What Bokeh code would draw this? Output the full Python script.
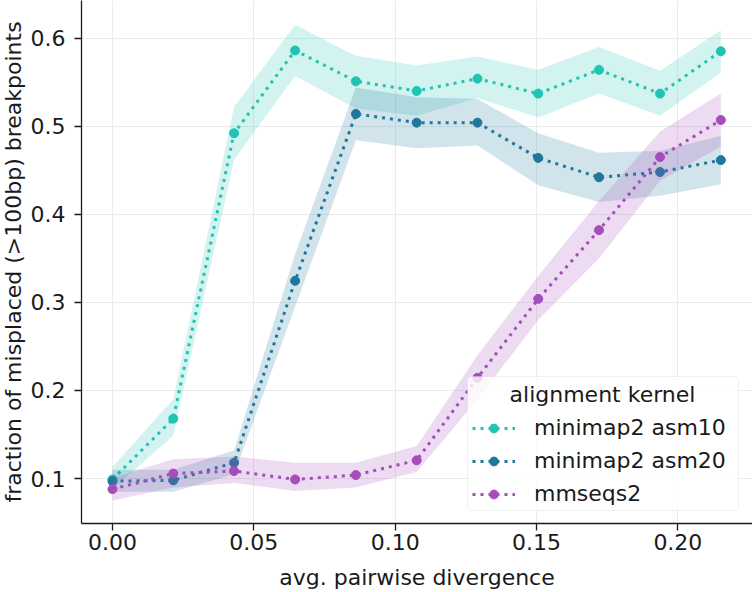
from bokeh.plotting import figure
from bokeh.models import (Range1d, FixedTicker, PrintfTickFormatter, Legend, LegendItem,
                          ColumnDataSource, Label, Title, BoxAnnotation)
from bokeh.embed import file_html
from bokeh.resources import INLINE

# ---- data ----
divergence = [0.0, 0.0215, 0.0430, 0.0646, 0.0861, 0.1076, 0.1291, 0.1506, 0.1721, 0.1937, 0.2152]

asm10_mean = [0.099, 0.168, 0.492, 0.586, 0.551, 0.540, 0.554, 0.537, 0.564, 0.537, 0.585]
asm10_lo = [0.088, 0.149, 0.462, 0.557, 0.520, 0.512, 0.532, 0.510, 0.537, 0.512, 0.561]
asm10_hi = [0.113, 0.190, 0.522, 0.615, 0.580, 0.569, 0.579, 0.564, 0.590, 0.563, 0.609]

asm20_mean = [0.097, 0.098, 0.118, 0.3245, 0.514, 0.504, 0.504, 0.464, 0.442, 0.448, 0.4615]
asm20_lo = [0.085, 0.085, 0.105, 0.295, 0.484, 0.475, 0.478, 0.433, 0.414, 0.421, 0.434]
asm20_hi = [0.110, 0.110, 0.132, 0.355, 0.544, 0.533, 0.531, 0.492, 0.470, 0.472, 0.489]

mmseqs_mean = [0.088, 0.1057, 0.1086, 0.099, 0.104, 0.1207, 0.2144, 0.304, 0.382, 0.465, 0.507]
mmseqs_lo = [0.075, 0.090, 0.095, 0.086, 0.090, 0.1075, 0.190, 0.280, 0.350, 0.438, 0.477]
mmseqs_hi = [0.101, 0.122, 0.125, 0.118, 0.118, 0.137, 0.240, 0.330, 0.415, 0.494, 0.537]

series_names = ["minimap2 asm10", "minimap2 asm20", "mmseqs2"]
series_colors = ["#1fc4b3", "#1f789c", "#a54dbb"]

x_ticks = [0.0, 0.05, 0.10, 0.15, 0.20]
y_ticks = [0.1, 0.2, 0.3, 0.4, 0.5, 0.6]

x_label = "avg. pairwise divergence"
y_label = "fraction of misplaced (>100bp) breakpoints"
legend_title = "alignment kernel"

FONT = "DejaVu Sans"
INK = "#1a1a1a"

p = figure(width=752, height=592, output_backend="svg", toolbar_location=None,
           x_range=Range1d(-0.01097, 0.2264), y_range=Range1d(0.0490, 0.6427),
           min_border=0, min_border_left=81, min_border_right=0,
           min_border_top=0, min_border_bottom=68)

p.outline_line_color = None
p.background_fill_color = "white"

for g in (p.xgrid, p.ygrid):
    g.grid_line_color = "#ebebeb"
    g.grid_line_width = 1

p.xaxis.ticker = FixedTicker(ticks=x_ticks)
p.yaxis.ticker = FixedTicker(ticks=y_ticks)
p.xaxis.formatter = PrintfTickFormatter(format="%.2f")
p.yaxis.formatter = PrintfTickFormatter(format="%.1f")
p.xaxis.axis_label = x_label

for ax in (p.xaxis, p.yaxis):
    ax.axis_line_color = INK
    ax.axis_line_width = 1.3
    ax.major_tick_line_color = INK
    ax.major_tick_line_width = 1.3
    ax.major_tick_out = 7
    ax.major_tick_in = 0
    ax.minor_tick_line_color = None
    ax.major_label_text_font = FONT
    ax.major_label_text_font_size = "22px"
    ax.major_label_text_color = INK
    ax.axis_label_text_font = FONT
    ax.axis_label_text_font_size = "22px"
    ax.axis_label_text_font_style = "normal"
    ax.axis_label_text_color = INK

p.xaxis.major_label_standoff = 3
p.xaxis.axis_label_standoff = 12
p.yaxis.major_label_standoff = 9

# y axis label as a side title in the left border
p.add_layout(Title(text=y_label, align="center", vertical_align="top", standoff=0,
                   text_font=FONT, text_font_size="22px", text_font_style="normal",
                   text_color=INK), "left")

all_series = [
    (asm10_mean, asm10_lo, asm10_hi),
    (asm20_mean, asm20_lo, asm20_hi),
    (mmseqs_mean, mmseqs_lo, mmseqs_hi),
]

items = []
for name, color, (m, lo, hi) in zip(series_names, series_colors, all_series):
    src = ColumnDataSource(dict(x=divergence, y=m, lo=lo, hi=hi))
    p.varea(x="x", y1="lo", y2="hi", source=src, fill_color=color, fill_alpha=0.2)
    ln = p.line(x="x", y="y", source=src, line_color=color, line_width=3,
                line_dash="3 5")
    sc = p.scatter(x="x", y="y", source=src, size=9, fill_color=color,
                   line_color=color, line_width=1)
    items.append(LegendItem(label=name, renderers=[ln, sc]))

# translucent rounded legend frame (drawn beneath the legend entries)
p.add_layout(BoxAnnotation(left=386, right=657, bottom=13, top=147,
                           left_units="screen", right_units="screen",
                           bottom_units="screen", top_units="screen",
                           fill_color="white", fill_alpha=0.8,
                           line_color="#cccccc", line_width=1, border_radius=4))

# centred legend title
p.add_layout(Label(x=521, y=129, x_units="screen", y_units="screen", text=legend_title,
                   text_align="center", text_baseline="middle",
                   text_font=FONT, text_font_size="22px", text_color=INK))

legend = Legend(items=items, title=" ", location=(391, 13))
legend.title_text_font = FONT
legend.title_text_font_size = "22px"
legend.title_text_font_style = "normal"
legend.label_text_font = FONT
legend.label_text_font_size = "22px"
legend.label_text_color = INK
legend.glyph_width = 43
legend.glyph_height = 22
legend.label_height = 33
legend.label_standoff = 19
legend.spacing = 0
legend.padding = 4
legend.margin = 0
legend.title_standoff = 0
legend.border_line_color = None
legend.background_fill_alpha = 0
p.add_layout(legend)

open("out.html", "w").write(file_html(p, INLINE))
